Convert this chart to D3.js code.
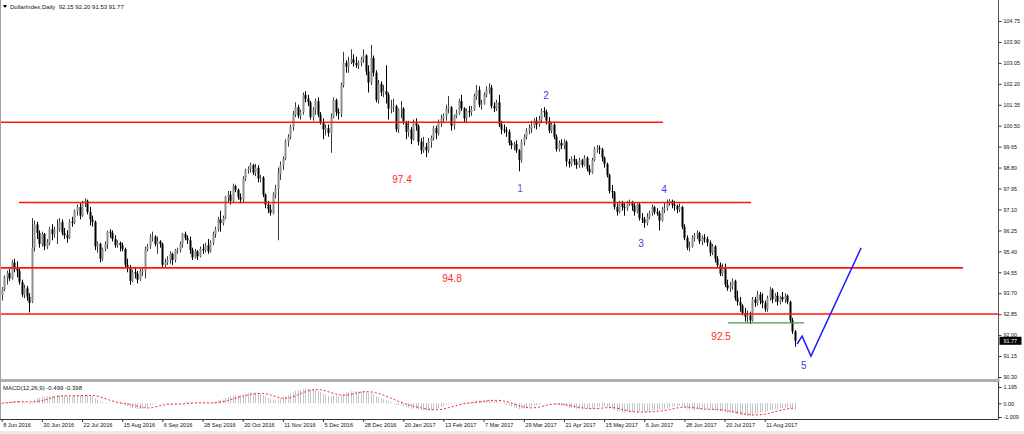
<!DOCTYPE html>
<html><head><meta charset="utf-8">
<script src="https://cdn.jsdelivr.net/npm/d3@7"></script>
<style>
html,body{margin:0;padding:0;background:#fff;}
svg{display:block;font-family:"Liberation Sans",Arial,sans-serif;}
</style></head><body>
<svg id="c" width="1024" height="434"></svg>
<script>
// ---------------- DATA ----------------
const chartTitle = "DollarIndex,Daily  92.15 92.20 91.53 91.77";
const macdTitle = "MACD(12,26,9) -0.499 -0.398";
const dateTickIndex = [0,16,32,48,64,80,96,112,128,144,160,176,192,208,224,240,256,272,288,304];
const dateTickLabels = ["8 Jun 2016","30 Jun 2016","22 Jul 2016","15 Aug 2016","6 Sep 2016","28 Sep 2016","20 Oct 2016","11 Nov 2016","5 Dec 2016","28 Dec 2016","20 Jan 2017","13 Feb 2017","7 Mar 2017","29 Mar 2017","21 Apr 2017","15 May 2017","6 Jun 2017","28 Jun 2017","20 Jul 2017","11 Aug 2017"];
const priceTicks = [104.75,103.90,103.05,102.20,101.35,100.50,99.65,98.80,97.95,97.10,96.25,95.40,94.55,93.70,92.85,92.00,91.15,90.30];
const macdTicks = [1.195, 0, -1.009];
const lastPrice = 91.77;

const opens = [
93.62,93.88,94.35,94.52,94.30,94.95,94.70,94.60,94.15,93.65,
93.90,93.55,93.35,95.55,96.50,96.15,95.70,96.10,95.60,95.75,
96.30,96.10,96.25,96.30,96.60,96.15,96.05,95.95,96.60,96.55,
97.05,97.20,96.85,97.40,97.45,97.00,96.70,96.60,95.60,95.70,
95.10,95.50,95.70,96.20,96.15,95.90,95.65,95.75,95.65,95.50,
94.85,94.75,94.20,94.55,94.50,94.25,94.60,94.60,95.50,95.60,
96.00,96.00,95.70,95.80,95.70,94.85,94.95,95.05,95.30,95.05,
95.45,95.45,95.70,96.10,95.95,95.85,95.45,95.15,95.40,95.20,
95.50,95.45,95.65,95.40,95.75,96.10,96.30,96.70,96.55,96.75,
97.60,97.70,97.45,98.05,97.90,97.60,97.50,98.35,98.70,98.75,
98.90,98.60,98.80,98.35,98.40,97.70,97.30,97.10,96.95,97.70,
97.95,98.55,98.90,99.15,99.85,100.05,100.45,100.95,101.25,100.90,
101.05,101.75,101.60,101.45,100.85,101.15,101.50,100.95,100.65,100.35,
100.40,100.20,100.85,101.55,101.05,101.00,102.15,103.05,102.90,103.10,
103.20,103.05,102.95,103.05,103.20,103.35,102.70,102.25,103.25,102.65,
101.55,102.20,101.85,101.90,101.75,101.20,101.25,101.30,100.35,101.15,
101.20,100.65,100.25,100.35,99.95,100.60,100.50,99.85,99.50,99.65,
99.50,99.85,100.00,100.40,100.20,100.65,100.80,100.90,101.20,101.25,
100.50,100.90,101.00,101.50,101.20,100.80,101.10,101.05,101.15,101.70,
101.95,101.35,101.40,101.75,101.95,102.05,101.30,101.20,101.45,100.55,
100.35,100.30,100.25,99.80,99.70,99.75,99.50,99.10,99.85,100.05,
100.30,100.40,100.50,100.70,100.55,100.75,101.10,101.05,100.70,100.30,
100.55,100.05,99.55,99.80,99.70,99.85,99.05,98.95,99.15,99.05,
98.90,99.10,98.90,99.20,98.75,98.60,99.10,99.55,99.60,99.55,
99.20,98.95,98.50,97.85,97.80,97.20,97.00,97.35,97.20,97.15,
97.35,97.40,97.25,97.00,97.30,96.75,96.70,96.55,96.80,96.95,
97.20,97.00,96.95,96.65,97.10,97.15,97.40,97.45,97.30,97.25,
97.10,97.20,96.40,95.95,95.55,95.60,95.95,96.05,96.15,95.80,
95.95,95.90,95.75,95.35,95.60,95.10,94.85,94.50,94.75,94.05,
93.90,94.00,94.20,93.50,93.35,93.20,92.90,92.75,92.80,92.60,
93.45,93.30,93.65,93.40,93.30,93.05,93.50,93.85,93.45,93.60,
93.35,93.55,93.45,93.60,93.35,92.60,92.15];

const highs = [
93.95,94.42,94.62,94.70,95.05,95.10,95.00,94.70,94.25,94.05,
94.00,93.70,96.75,96.65,96.60,96.25,96.20,96.15,95.90,96.40,
96.50,96.40,96.70,96.75,96.70,96.35,96.25,96.70,96.80,97.10,
97.30,97.35,97.45,97.55,97.50,97.20,96.85,96.65,95.80,95.75,
95.55,95.80,96.25,96.30,96.25,96.05,95.85,95.80,95.75,95.55,
95.10,94.85,94.65,94.75,94.60,94.70,94.75,95.60,95.70,96.10,
96.20,96.05,96.00,95.85,95.75,95.10,95.20,95.40,95.35,95.50,
95.55,95.80,96.15,96.20,96.05,96.00,95.55,95.50,95.45,95.60,
95.70,95.75,95.90,95.85,96.20,96.40,96.80,97.05,96.85,97.65,
97.85,97.85,98.15,98.10,97.95,97.75,98.45,98.75,98.85,99.00,
98.95,98.95,98.90,98.50,98.45,97.75,97.45,97.30,97.80,98.10,
98.80,99.05,99.25,99.95,100.15,100.55,101.10,101.45,101.35,101.15,
101.85,101.90,101.75,101.50,101.25,101.60,101.65,101.05,100.80,100.55,
100.55,101.00,101.65,101.60,101.20,102.25,103.50,103.15,103.30,103.60,
103.40,103.30,103.15,103.30,103.60,103.40,102.95,103.78,103.35,102.75,
102.35,102.30,102.15,102.95,101.85,101.55,101.60,101.35,101.20,101.50,
101.25,100.70,100.70,100.45,100.75,100.80,100.55,100.00,100.05,99.80,
100.00,100.10,100.50,100.50,100.75,100.95,101.00,101.35,101.70,101.30,
100.95,101.15,101.60,101.75,101.25,101.20,101.30,101.30,101.80,102.15,
102.10,101.55,101.85,102.10,102.22,102.15,101.45,101.55,101.75,100.70,
100.55,100.45,100.35,99.90,99.85,99.90,99.55,99.95,100.15,100.40,
100.55,100.70,100.80,100.85,100.90,101.20,101.25,101.15,100.85,100.65,
100.60,100.15,99.90,99.95,99.95,99.90,99.15,99.25,99.30,99.15,
99.20,99.15,99.30,99.25,98.90,99.20,99.65,99.72,99.70,99.60,
99.25,99.00,98.55,98.10,97.85,97.35,97.45,97.45,97.35,97.45,
97.50,97.45,97.35,97.35,97.40,96.95,96.80,96.95,97.05,97.30,
97.25,97.15,97.05,97.20,97.40,97.50,97.52,97.50,97.45,97.30,
97.35,97.25,96.50,96.05,95.80,96.05,96.15,96.25,96.20,96.05,
96.10,96.00,95.85,95.70,95.65,95.20,94.95,94.90,94.90,94.25,
94.15,94.30,94.25,93.80,93.55,93.25,93.10,93.00,92.95,93.55,
93.55,93.80,93.75,93.70,93.40,93.60,93.95,93.90,93.70,93.75,
93.60,93.75,93.70,93.65,93.40,92.70,92.20];

const lows = [
93.40,93.78,94.05,94.20,94.25,94.55,94.35,94.05,93.55,93.50,
93.40,92.92,93.30,95.40,95.90,95.55,95.60,95.45,95.50,95.65,
95.85,95.95,95.70,96.20,96.05,95.90,95.75,95.90,96.40,96.50,
96.85,96.70,96.80,97.20,96.90,96.45,96.40,95.45,95.35,94.95,
95.00,95.40,95.50,95.95,95.80,95.55,95.55,95.40,95.40,94.75,
94.55,94.05,94.15,94.30,94.10,94.20,94.40,94.30,95.40,95.50,
95.80,95.60,95.30,95.55,94.75,94.75,94.85,94.90,94.85,94.95,
95.30,95.35,95.55,95.85,95.70,95.30,95.05,95.10,95.05,95.15,
95.30,95.35,95.30,95.35,95.65,95.95,96.20,96.20,96.45,96.70,
97.40,97.30,97.40,97.80,97.50,97.35,97.40,98.25,98.55,98.60,
98.50,98.45,98.20,98.20,97.60,97.15,96.95,96.85,96.90,97.55,
95.85,98.30,98.70,99.10,99.65,99.95,100.30,100.85,100.80,100.75,
100.95,101.45,101.30,100.75,100.70,100.95,100.85,100.55,99.95,100.10,
100.05,99.40,100.80,100.90,100.75,100.85,102.05,102.65,102.65,103.00,
102.90,102.85,102.80,102.90,103.05,102.55,101.85,102.15,102.50,101.45,
101.40,101.70,101.65,101.40,100.75,101.00,101.05,100.25,100.20,100.80,
100.55,99.95,100.05,99.75,99.90,100.30,99.70,99.35,99.40,99.22,
99.40,99.60,99.90,99.95,100.10,100.45,100.60,100.70,101.00,100.30,
100.35,100.80,100.95,101.10,100.65,100.60,100.85,100.90,101.10,101.55,
101.25,101.15,101.35,101.65,101.80,101.20,101.05,101.10,100.45,100.15,
100.20,100.05,99.70,99.55,99.50,99.40,98.65,99.00,99.70,99.95,
100.15,100.20,100.40,100.35,100.45,100.60,100.85,100.55,100.20,100.20,
99.95,99.45,99.45,99.55,99.55,98.85,98.80,98.85,98.90,98.75,
98.80,98.80,98.85,98.65,98.50,98.55,99.05,99.40,99.35,99.05,
98.80,98.40,97.75,97.55,97.10,96.85,96.95,97.05,96.85,97.05,
97.25,97.05,96.85,96.95,96.65,96.55,96.36,96.45,96.70,96.85,
96.90,96.85,96.25,96.60,96.95,97.05,97.25,97.15,97.05,96.95,
97.00,96.30,95.85,95.45,95.40,95.55,95.80,95.90,95.70,95.65,
95.75,95.60,95.20,95.25,94.95,94.75,94.40,94.40,93.95,93.80,
93.75,93.85,93.40,93.20,92.95,92.80,92.55,92.50,92.45,92.55,
93.15,93.20,93.25,93.10,92.95,92.95,93.40,93.30,93.35,93.20,
93.25,93.35,93.30,93.25,92.50,92.05,91.53];

const closes = [
93.88,94.35,94.52,94.30,94.95,94.70,94.60,94.15,93.65,93.90,
93.55,93.30,95.55,96.50,96.15,95.70,96.10,95.60,95.75,96.30,
96.10,96.25,96.30,96.60,96.15,96.05,95.95,96.60,96.55,97.05,
97.20,96.85,97.40,97.45,97.00,96.70,96.60,95.60,95.70,95.10,
95.50,95.70,96.20,96.15,95.90,95.65,95.75,95.65,95.50,94.85,
94.75,94.20,94.55,94.50,94.25,94.60,94.60,95.50,95.60,96.00,
96.00,95.70,95.80,95.70,94.85,94.95,95.05,95.30,95.05,95.45,
95.45,95.70,96.10,95.95,95.85,95.45,95.15,95.40,95.20,95.50,
95.45,95.65,95.40,95.75,96.10,96.30,96.70,96.55,96.75,97.60,
97.70,97.45,98.05,97.90,97.60,97.50,98.35,98.70,98.75,98.90,
98.60,98.80,98.35,98.40,97.70,97.30,97.10,96.95,97.70,97.95,
98.55,98.90,99.15,99.85,100.05,100.45,100.95,101.25,100.90,101.05,
101.75,101.60,101.45,100.85,101.15,101.50,100.95,100.65,100.35,100.40,
100.20,100.85,101.55,101.05,101.00,102.15,103.05,102.90,103.10,103.20,
103.05,102.95,103.05,103.20,103.35,102.70,102.25,103.25,102.65,101.55,
102.20,101.85,101.90,101.75,101.20,101.25,101.30,100.35,101.15,101.20,
100.65,100.25,100.35,99.95,100.60,100.50,99.85,99.50,99.65,99.50,
99.85,100.00,100.40,100.20,100.65,100.80,100.90,101.20,101.25,100.50,
100.90,101.00,101.50,101.20,100.80,101.10,101.05,101.15,101.70,101.95,
101.35,101.40,101.75,101.95,102.05,101.30,101.20,101.45,100.55,100.35,
100.30,100.25,99.80,99.70,99.75,99.50,99.10,99.85,100.05,100.30,
100.40,100.50,100.70,100.55,100.75,101.10,101.05,100.70,100.30,100.55,
100.05,99.55,99.80,99.70,99.85,99.05,98.95,99.15,99.05,98.90,
99.10,98.90,99.20,98.75,98.60,99.10,99.55,99.60,99.55,99.20,
98.95,98.50,97.85,97.80,97.20,97.00,97.35,97.20,97.15,97.35,
97.40,97.25,97.00,97.30,96.75,96.70,96.55,96.80,96.95,97.20,
97.00,96.95,96.65,97.10,97.15,97.40,97.45,97.30,97.25,97.10,
97.20,96.40,95.95,95.55,95.60,95.95,96.05,96.15,95.80,95.95,
95.90,95.75,95.35,95.60,95.10,94.85,94.50,94.75,94.05,93.90,
94.00,94.20,93.50,93.35,93.20,92.90,92.75,92.80,92.60,93.45,
93.30,93.65,93.40,93.30,93.05,93.50,93.85,93.45,93.60,93.35,
93.55,93.45,93.60,93.35,92.60,92.15,91.77];

// horizontal levels (price, bar-index span)
const levelPrices = [100.64, 97.38, 94.73, 92.86];
const levelFrom   = [-3, 6.9, -3, -3];
const levelTo     = [263.5, 298.5, 383, 420];
const supportPrice = 92.50, supportFrom = 289.4, supportTo = 319.7;
const levelTexts = ["97.4","94.8","92.5"];
const levelTextAt = [[159.5,98.30],[179.4,94.28],[286.6,91.96]];
const waveNames = ["1","2","3","4","5"];
const waveAt = [[206.5,97.97],[216.9,101.74],[254.7,95.70],[263.9,97.93],[319.6,90.75]];
const projIdx = [316.9, 318.9, 322.4, 342.4];
const projPrice = [91.64, 91.96, 91.15, 95.54];

// ---------------- CHART ----------------
const svg = d3.select("#c");
const W = 1024;
const plotRight = 998.5;
const mainTop = 0, mainBottom = 379;
const macdTop = 382, macdBottom = 419;

const x = d3.scaleLinear().domain([0, 316]).range([1.7, 1.7 + 2.51*316]);
const y = d3.scaleLinear().domain([90.30, 104.75]).range([377, 21]);
const ym = d3.scaleLinear().domain([-1.009, 1.195]).range([417, 387]);

svg.append("rect").attr("x",0).attr("y",0).attr("width",W).attr("height",434).attr("fill","#fff");

const defs = svg.append("defs");
defs.append("clipPath").attr("id","clipMain").append("rect")
  .attr("x",0).attr("y",mainTop).attr("width",plotRight).attr("height",mainBottom-mainTop);
defs.append("clipPath").attr("id","clipMacd").append("rect")
  .attr("x",0).attr("y",macdTop).attr("width",plotRight).attr("height",macdBottom-macdTop);

const main = svg.append("g").attr("clip-path","url(#clipMain)");

// candles
const idx = d3.range(closes.length);
const cg = main.append("g");
cg.selectAll("line.w").data(idx).join("line")
  .attr("x1", i => Math.round(x(i))+0.5).attr("x2", i => Math.round(x(i))+0.5)
  .attr("y1", i => y(highs[i])).attr("y2", i => y(lows[i]))
  .attr("stroke", i => closes[i] >= opens[i] ? "#3a3a3a" : "#000")
  .attr("stroke-width",1);
cg.selectAll("rect.b").data(idx).join("rect")
  .attr("x", i => Math.round(x(i))-0.5)
  .attr("width", 2)
  .attr("y", i => y(Math.max(opens[i],closes[i])))
  .attr("height", i => Math.max(1, Math.abs(y(opens[i])-y(closes[i]))))
  .attr("fill", i => closes[i] >= opens[i] ? "#8e8e8e" : "#000");

// levels
levelPrices.forEach((p,k) => {
  main.append("line").attr("x1", x(levelFrom[k])).attr("x2", x(levelTo[k]))
    .attr("y1", y(p)).attr("y2", y(p)).attr("stroke","#ff1414").attr("stroke-width",1.6);
});
main.append("line").attr("x1", x(supportFrom)).attr("x2", x(supportTo))
  .attr("y1", y(supportPrice)).attr("y2", y(supportPrice)).attr("stroke","#3c9a5a").attr("stroke-width",1.2);

// projection
main.append("path").datum(d3.range(projIdx.length))
  .attr("d", d3.line().x(k => x(projIdx[k])).y(k => y(projPrice[k])))
  .attr("fill","none").attr("stroke","#1e1eff").attr("stroke-width",1.5);

// texts
levelTexts.forEach((t,k) => {
  main.append("text").attr("x", x(levelTextAt[k][0])).attr("y", y(levelTextAt[k][1]))
    .attr("text-anchor","middle").attr("dominant-baseline","central")
    .attr("font-size","10px").attr("fill","#ff2a2a").text(t);
});
waveNames.forEach((t,k) => {
  main.append("text").attr("x", x(waveAt[k][0])).attr("y", y(waveAt[k][1]))
    .attr("text-anchor","middle").attr("dominant-baseline","central")
    .attr("font-size","10px").attr("fill", k===0 ? "#6a4ae0" : "#3a3af0").text(t);
});

// header
svg.append("path").attr("d","M3,5 L7,5 L5,8 Z").attr("fill","#000");
svg.append("text").attr("x",10).attr("y",9).attr("font-size","6px").attr("fill","#111")
  .attr("xml:space","preserve").style("white-space","pre").text(chartTitle);

// price axis
const pAxis = svg.append("g").attr("transform",`translate(${plotRight},0)`)
  .call(d3.axisRight(y).tickValues(priceTicks).tickSize(3).tickPadding(2).tickFormat(d3.format(".2f")));
pAxis.select(".domain").remove();
pAxis.selectAll("text").attr("font-size","5.4px").attr("fill","#111").attr("font-family","Liberation Sans, Arial, sans-serif");
pAxis.selectAll("line").attr("stroke","#333");

// current price label
const lp = svg.append("g").attr("transform",`translate(${plotRight+1},${y(lastPrice)})`);
lp.append("rect").attr("x",0).attr("y",-4).attr("width",22).attr("height",8).attr("fill","#000");
lp.append("text").attr("x",4).attr("y",0).attr("dy","0.35em").attr("font-size","5.4px").attr("fill","#fff").text(lastPrice.toFixed(2));

// separator & frames
svg.append("line").attr("x1",plotRight).attr("x2",plotRight).attr("y1",0).attr("y2",mainBottom).attr("stroke","#555").attr("stroke-width",1);
svg.append("rect").attr("x",0).attr("y",mainBottom).attr("width",plotRight+1).attr("height",macdTop-mainBottom).attr("fill","#b0b0b0");
svg.append("line").attr("x1",0.5).attr("x2",0.5).attr("y1",0).attr("y2",macdBottom).attr("stroke","#a0a0a0");

// MACD computed from closes
const ema = (arr, n) => { const a = 2/(n+1); const out=[]; arr.forEach((v,i)=> out.push(i===0? v : a*v + (1-a)*out[i-1])); return out; };
const e12 = ema(closes,12), e26 = ema(closes,26);
const macd = closes.map((c,i) => e12[i]-e26[i]);
const signal = macd.map((v,i) => { const s = macd.slice(Math.max(0,i-8), i+1); return d3.mean(s); });

const mg = svg.append("g").attr("clip-path","url(#clipMacd)");
mg.selectAll("line.h").data(idx).join("line")
  .attr("x1", i => Math.round(x(i))+0.5).attr("x2", i => Math.round(x(i))+0.5)
  .attr("y1", ym(0)).attr("y2", i => ym(macd[i]))
  .attr("stroke","#c4c4c4").attr("stroke-width",1);
mg.append("path").datum(idx)
  .attr("d", d3.line().x(i => x(i)).y(i => ym(signal[i])))
  .attr("fill","none").attr("stroke","#ff2020").attr("stroke-width",1).attr("stroke-dasharray","2,2");

svg.append("text").attr("x",3).attr("y",390).attr("font-size","6px").attr("fill","#111").text(macdTitle);

const mAxis = svg.append("g").attr("transform",`translate(${plotRight},0)`)
  .call(d3.axisRight(ym).tickValues(macdTicks).tickSize(3).tickPadding(2).tickFormat(d => d===0 ? "0.00" : String(d)));
mAxis.select(".domain").remove();
mAxis.selectAll("text").attr("font-size","5.4px").attr("fill","#111").attr("font-family","Liberation Sans, Arial, sans-serif");
mAxis.selectAll("line").attr("stroke","#333");

svg.append("line").attr("x1",plotRight).attr("x2",plotRight).attr("y1",macdTop).attr("y2",macdBottom).attr("stroke","#333");
svg.append("line").attr("x1",0).attr("x2",plotRight).attr("y1",macdBottom+0.5).attr("y2",macdBottom+0.5).attr("stroke","#333");

// date axis
const dAxis = svg.append("g").attr("transform",`translate(0,${macdBottom})`)
  .call(d3.axisBottom(x).tickValues(dateTickIndex).tickSize(3).tickFormat((d,k) => dateTickLabels[k]));
dAxis.select(".domain").remove();
dAxis.selectAll("line").attr("stroke","#333");
dAxis.selectAll("text").attr("text-anchor","start").attr("x",1).attr("y",4).attr("dy","0.71em")
  .attr("font-size","5.6px").attr("fill","#111").attr("font-family","Liberation Sans, Arial, sans-serif");

svg.append("rect").attr("x",0).attr("y",431).attr("width",W).attr("height",3).attr("fill","#ececec");
</script>
</body></html>
